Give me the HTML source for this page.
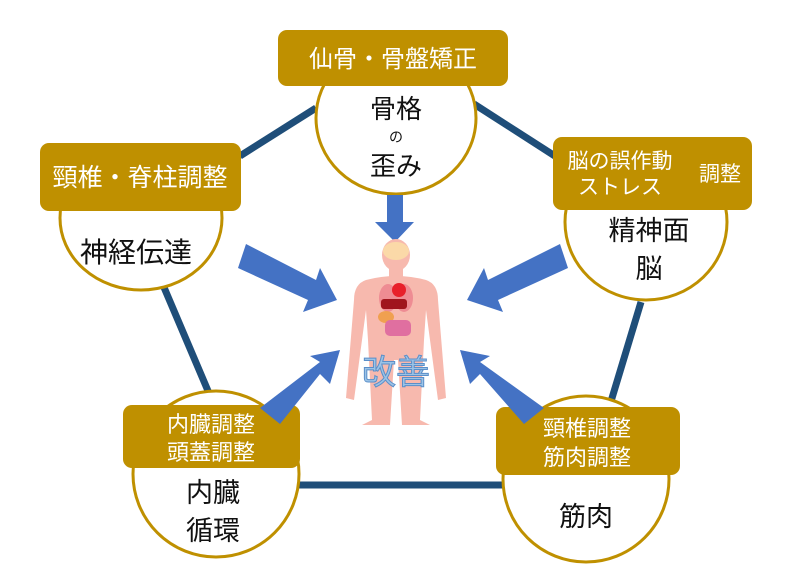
<!DOCTYPE html>
<html><head><meta charset="utf-8"><style>
html,body{margin:0;padding:0;background:#fff;width:800px;height:583px;overflow:hidden}
text{font-family:"Liberation Sans","Noto Sans CJK JP",sans-serif}
</style></head><body>
<svg width="800" height="583" viewBox="0 0 800 583" xmlns="http://www.w3.org/2000/svg">
<g stroke="#1f4e79" stroke-width="7" fill="none">
<line x1="240" y1="156" x2="316" y2="108"/>
<line x1="474" y1="104" x2="558" y2="158"/>
<line x1="163" y1="285" x2="214" y2="405"/>
<line x1="641" y1="302" x2="609" y2="408"/>
<line x1="298" y1="485" x2="505" y2="485"/>
</g>
<g fill="#fff" stroke="#bf9000" stroke-width="3">
<ellipse cx="396" cy="118" rx="80" ry="76"/>
<ellipse cx="141" cy="218" rx="81" ry="72"/>
<ellipse cx="646" cy="222" rx="81" ry="78"/>
<circle cx="216" cy="474" r="83"/>
<circle cx="586" cy="479" r="83"/>
</g>
<g fill="#bf9000">
<rect x="278" y="30" width="230" height="56" rx="9"/>
<rect x="40" y="143" width="201" height="68" rx="9"/>
<rect x="553" y="137" width="199" height="73" rx="9"/>
<rect x="123" y="405" width="177" height="63" rx="9"/>
<rect x="496" y="407" width="184" height="68" rx="9"/>
</g>
<g fill="#fff" font-size="23">
<text x="393" y="67" text-anchor="middle" font-size="24">仙骨・骨盤矯正</text>
<text x="140" y="186" text-anchor="middle" font-size="25">頸椎・脊柱調整</text>
<text x="620" y="168" text-anchor="middle" font-size="21">脳の誤作動</text>
<text x="620" y="194" text-anchor="middle" font-size="21">ストレス</text>
<text x="720" y="181" text-anchor="middle" font-size="21">調整</text>
<text x="211" y="432" text-anchor="middle" font-size="22">内臓調整</text>
<text x="211" y="460" text-anchor="middle" font-size="22">頭蓋調整</text>
<text x="587" y="436" text-anchor="middle" font-size="22">頸椎調整</text>
<text x="587" y="465" text-anchor="middle" font-size="22">筋肉調整</text>
</g>
<g fill="#111" text-anchor="middle">
<text x="396" y="118" font-size="26">骨格</text>
<text x="396" y="142" font-size="14">の</text>
<text x="396" y="175" font-size="26">歪み</text>
<text x="136" y="262" font-size="28">神経伝達</text>
<text x="649" y="240" font-size="27">精神面</text>
<text x="649" y="278" font-size="27">脳</text>
<text x="213" y="502" font-size="27">内臓</text>
<text x="213" y="540" font-size="27">循環</text>
<text x="586" y="526" font-size="27">筋肉</text>
</g>
<g fill="#4472c4">
<polygon points="387,195 403,195 403,222 414,222 395,242 375,222 387,222"/>
<polygon points="246,244 238,268 308,300 303,312 337,300 320,268 316,280"/>
<polygon points="560,244 568,268 498,300 503,312 467,300 484,268 488,280"/>
<polygon points="260,408 280,424 320,374 330,384 340,350 310,356 320,362"/>
<polygon points="544,408 524,424 480,374 470,384 460,350 490,356 480,362"/>
</g>
<g fill="#f7b9ae">
<ellipse cx="396" cy="255" rx="14" ry="16"/>
<rect x="389" y="266" width="14" height="12"/>
<path d="M366 280 Q396 272 426 280 Q438 284 438 300 L446 398 L438 400 L426 310 L424 340 L420 420 L430 425 L402 425 L398 360 L394 360 L390 425 L362 425 L372 420 L368 340 L366 310 L354 400 L346 398 L354 300 Q354 284 366 280Z"/>
</g>
<ellipse cx="396" cy="251" rx="13" ry="9" fill="#fbd9a8"/>
<ellipse cx="388" cy="298" rx="9" ry="14" fill="#ee8c93"/>
<ellipse cx="404" cy="298" rx="9" ry="14" fill="#ee8c93"/>
<circle cx="399" cy="290" r="7" fill="#e8202a"/>
<rect x="381" y="299" width="26" height="10" rx="3" fill="#a0151d"/>
<ellipse cx="386" cy="317" rx="8" ry="6" fill="#f0a050"/>
<rect x="385" y="320" width="26" height="16" rx="5" fill="#e06fa0"/>
<text x="396" y="384" text-anchor="middle" font-size="34" fill="#9cc3e6" stroke="#5b8fc9" stroke-width="1">改善</text>
</svg>
</body></html>
